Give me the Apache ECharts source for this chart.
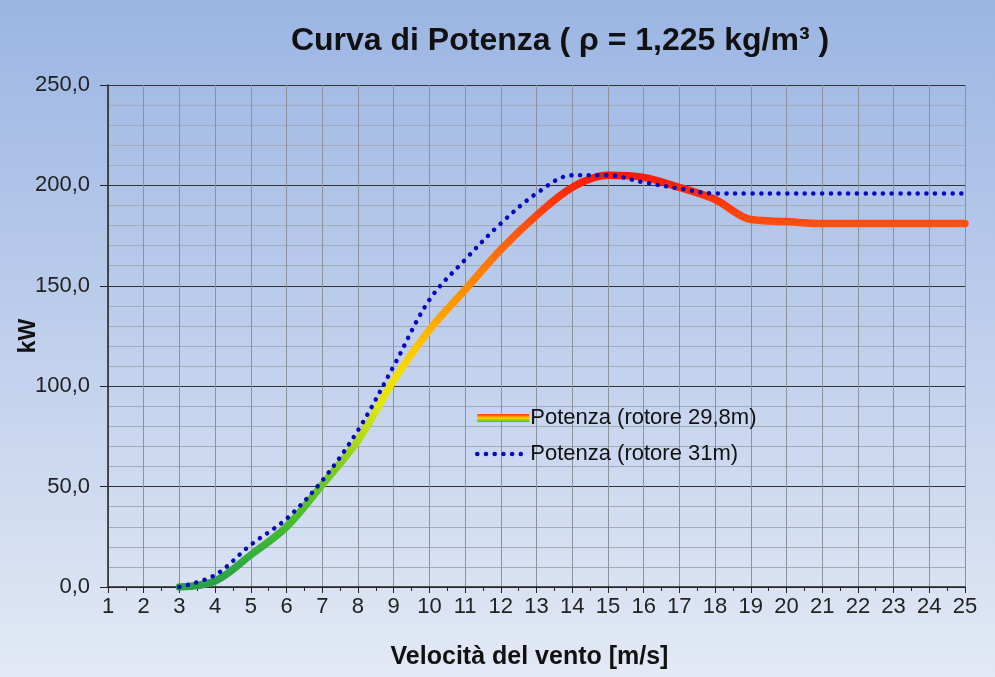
<!DOCTYPE html>
<html>
<head>
<meta charset="utf-8">
<script src="https://cdn.jsdelivr.net/npm/echarts@6/dist/echarts.min.js"></script>
<style>
  html, body { margin: 0; padding: 0; }
  #chart { width: 995px; height: 677px; }
</style>
</head>
<body>
<div id="chart"></div>
<script>
// velocità del vento [m/s]
const windSpeed = [3, 4, 5, 6, 7, 8, 9, 10, 11, 12, 13, 14, 15, 16, 17, 18, 19, 20, 21, 22, 23, 24, 25]
// potenza kW, rotore 29,8 m
const power298 = [0, 3, 16, 30, 51, 73, 103, 128, 148, 168, 185, 199, 205, 204, 199, 193, 183, 182, 181, 181, 181, 181, 181]
// potenza kW, rotore 31 m
const power31 = [0, 6, 21, 34, 53, 78, 110, 143, 163, 181, 196, 205, 205, 201.5, 198.5, 196, 196, 196, 196, 196, 196, 196, 196]

const name298 = 'Potenza (rotore 29,8m)'
const name31 = 'Potenza (rotore 31m)'

const pairs = (xs, ys) => xs.map((x, i) => [x, ys[i]])
const font = 'Liberation Sans, Arial, sans-serif'
const dotted = { width: 4.5, color: '#0808c0', type: [0.1, 8.6], cap: 'round' }

const chart = echarts.init(document.getElementById('chart'))
chart.setOption({
    backgroundColor: new echarts.graphic.LinearGradient(0, 0, 0, 1, [
        { offset: 0, color: '#9bb5e3' },
        { offset: 1, color: '#e3e9f5' }
    ]),
    title: {
        text: 'Curva di Potenza ( ρ = 1,225 kg/m³ )',
        left: 555,
        textAlign: 'center',
        top: 20,
        textStyle: { fontFamily: font, fontSize: 32, fontWeight: 'bold', color: '#111' }
    },
    legend: {
        left: 470,
        top: 402,
        orient: 'vertical',
        itemGap: 14,
        itemWidth: 52,
        itemHeight: 8,
        textStyle: { fontFamily: font, fontSize: 22, color: '#111', padding: [0, 0, 0, -4] },
        data: [
            {
                name: name298,
                icon: 'rect',
                itemStyle: {
                    color: new echarts.graphic.LinearGradient(0, 0, 0, 1, [
                        { offset: 0, color: '#ff3010' },
                        { offset: 0.5, color: '#ffd000' },
                        { offset: 1, color: '#40c030' }
                    ])
                }
            },
            { name: name31, itemStyle: { opacity: 0 }, lineStyle: dotted }
        ]
    },
    grid: { left: 108, right: 30, top: 85, bottom: 90, outerBoundsMode: 'none' },
    xAxis: {
        type: 'value',
        min: 1,
        max: 25,
        interval: 1,
        name: 'Velocità del vento [m/s]',
        nameLocation: 'middle',
        nameGap: 58,
        nameTextStyle: { fontFamily: font, fontSize: 25, fontWeight: 'bold', color: '#111', padding: [0, 14, 0, 0] },
        axisLine: { onZero: false, lineStyle: { color: '#222', width: 1.5 } },
        axisTick: { length: 6, lineStyle: { color: '#222' } },
        minorTick: { show: true, splitNumber: 2, length: 4, lineStyle: { color: '#222' } },
        axisLabel: { fontFamily: font, fontSize: 22, color: '#222', margin: 9 },
        splitLine: { show: true, lineStyle: { color: '#8c929c', width: 1 } }
    },
    yAxis: {
        type: 'value',
        min: 0,
        max: 250,
        interval: 50,
        name: 'kW',
        nameLocation: 'middle',
        nameGap: 68,
        nameMoveOverlap: false,
        nameTextStyle: { fontFamily: font, fontSize: 23, fontWeight: 'bold', color: '#111' },
        axisLine: { show: true, lineStyle: { color: '#222', width: 1.5 } },
        axisTick: { show: true, length: 8, lineStyle: { color: '#222' } },
        axisLabel: {
            fontFamily: font, fontSize: 22, color: '#222', margin: 18,
            formatter: v => v.toFixed(1).replace('.', ',')
        },
        splitLine: { show: true, lineStyle: { color: '#333', width: 1.2 } },
        minorTick: { show: false, splitNumber: 5 },
        minorSplitLine: { show: true, lineStyle: { color: '#a3acbb', width: 1 } }
    },
    visualMap: {
        show: false,
        type: 'continuous',
        seriesIndex: 0,
        dimension: 1,
        min: 0,
        max: 210,
        inRange: {
            color: ['#2a9e48', '#35ae40', '#45bb30', '#5cc428', '#80ce20', '#b4dc18', '#dce810', '#f5e000',
                '#ffc400', '#ffa400', '#ff8a00', '#ff7008', '#ff5010', '#ff3008', '#ff1000']
        }
    },
    series: [
        {
            name: name298,
            type: 'line',
            data: pairs(windSpeed, power298),
            smooth: 0.35,
            showSymbol: false,
            symbol: 'none',
            lineStyle: { width: 7.5, cap: 'round' },
            z: 2
        },
        {
            name: name31,
            type: 'line',
            data: pairs(windSpeed, power31),
            smooth: 0.35,
            showSymbol: false,
            symbol: 'none',
            itemStyle: { color: '#0808c0' },
            lineStyle: dotted,
            z: 3
        }
    ]
})
</script>
</body>
</html>
